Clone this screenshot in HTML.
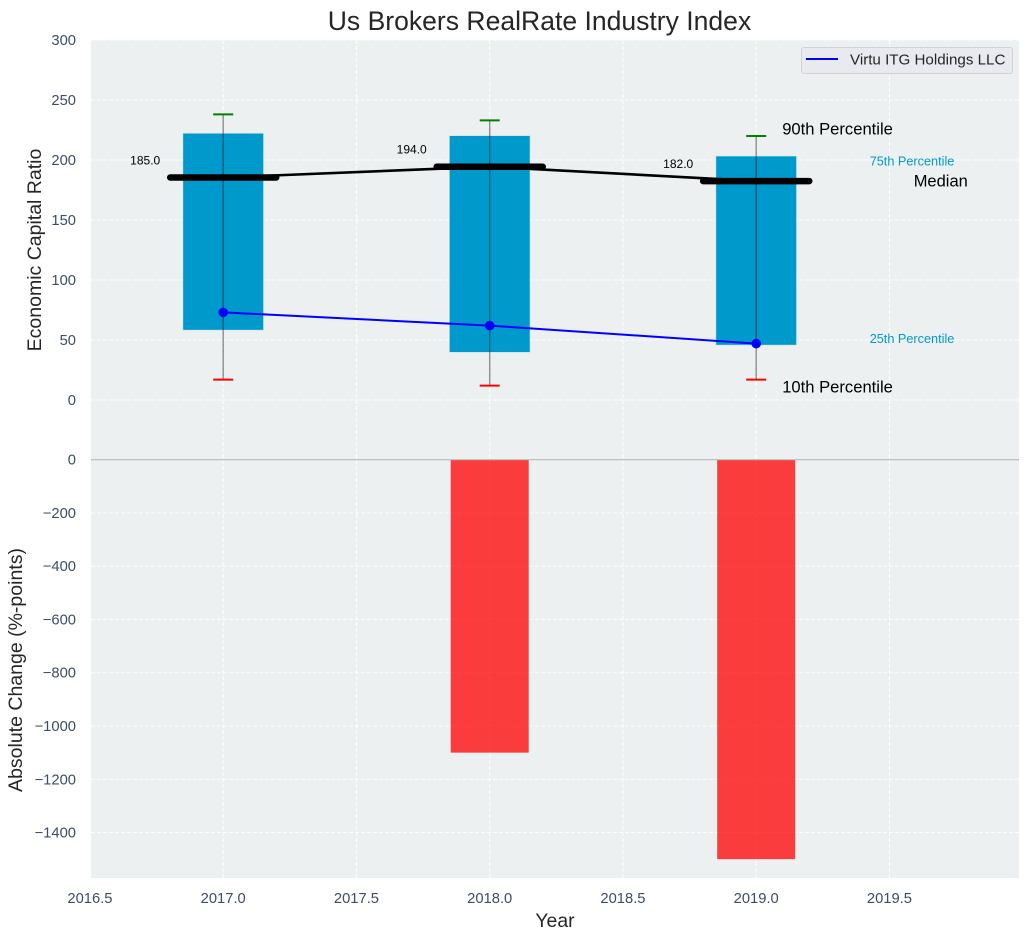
<!DOCTYPE html>
<html lang="en">
<head>
<meta charset="utf-8">
<title>Us Brokers RealRate Industry Index</title>
<style>
html,body{margin:0;padding:0;background:#fff;width:1029px;height:940px;overflow:hidden}
svg{display:block;font-family:"Liberation Sans",Arial,sans-serif}
</style>
</head>
<body>
<svg id="chart" width="1029" height="940" viewBox="0 0 1029 940" xmlns="http://www.w3.org/2000/svg">
  <rect x="91" y="40" width="928" height="420" fill="#ecf0f1"/>
  <rect x="91" y="460" width="928" height="418" fill="#ecf0f1"/>
  <g id="grid"></g>
  <g id="lower"></g>
  <g id="upper"></g>
  <g id="ticks"></g>
  <text x="539.5" y="30" text-anchor="middle" font-size="26.55" fill="#262626">Us Brokers RealRate Industry Index</text>
  <text x="555" y="927" text-anchor="middle" font-size="19.4" fill="#262626">Year</text>
  <text transform="translate(41 250) rotate(-90)" text-anchor="middle" font-size="19.5" fill="#262626">Economic Capital Ratio</text>
  <text transform="translate(22 670) rotate(-90)" text-anchor="middle" font-size="19.5" fill="#262626">Absolute Change (%-points)</text>
  <g>
    <rect x="801.5" y="47.5" width="211" height="26" rx="2.5" fill="#e8eaf0" stroke="#d2d3d7" stroke-width="1"/>
    <line x1="806" y1="59" x2="838" y2="59" stroke="#0000ff" stroke-width="2"/>
    <text x="850" y="64.5" font-size="15.15" fill="#262626">Virtu ITG Holdings LLC</text>
  </g>
</svg>
<script>
const years = [2017, 2018, 2019];
const p90 = [238, 233, 220];
const p75 = [222, 220, 203];
const medians = [185, 194, 182];
const p25 = [58.5, 40, 46];
const p10 = [17, 12, 17];
const company = [73, 62, 47];
const absoluteChange = [0, -1100, -1500];
const xTicks = [2016.5, 2017, 2017.5, 2018, 2018.5, 2019, 2019.5];
const upperTicks = [0, 50, 100, 150, 200, 250, 300];
const lowerTicks = [0, -200, -400, -600, -800, -1000, -1200, -1400];

const SVG_NS = 'http://www.w3.org/2000/svg';
const xScale = v => 223.2 + (v - 2017) * 266.5;
const yUpper = v => 400 - v * 1.2;
const yChange = v => 459.7 - v * 0.2663;

function make(tag, parent, attrs, text) {
  const el = document.createElementNS(SVG_NS, tag);
  for (const k in attrs) el.setAttribute(k, attrs[k]);
  if (text !== undefined) el.textContent = text;
  parent.appendChild(el);
  return el;
}
const fmt = v => String(v).replace('-', '\u2212');
const gridG = document.getElementById('grid');
const ticksG = document.getElementById('ticks');
const upperG = document.getElementById('upper');
const lowerG = document.getElementById('lower');
const gridStyle = { stroke: '#ffffff', 'stroke-width': 1.1, 'stroke-dasharray': '4 2', 'stroke-opacity': 0.85 };
const tickFont = 14.75;
const tickColor = '#3d4d63';

xTicks.forEach(t => {
  const x = xScale(t);
  if (x >= 91) {
    const g = make('line', gridG, Object.assign({ x1: x, x2: x, y1: 40, y2: 878 }, gridStyle));
    
    
  }
  const l = make('text', ticksG, { x: x, y: 903, 'text-anchor': 'middle', 'font-size': tickFont, fill: tickColor }, t.toFixed(1));
  
  
});
upperTicks.forEach(t => {
  const y = yUpper(t);
  const g = make('line', gridG, Object.assign({ x1: 91, x2: 1019, y1: y, y2: y }, gridStyle));
  
  
  const l = make('text', ticksG, { x: 76, y: y + 5, 'text-anchor': 'end', 'font-size': tickFont, fill: tickColor }, fmt(t));
  
  
});
lowerTicks.forEach(t => {
  const y = yChange(t);
  if (t !== 0) {
    const g = make('line', gridG, Object.assign({ x1: 91, x2: 1019, y1: y, y2: y }, gridStyle));
    
    
  }
  const l = make('text', ticksG, { x: 76, y: y + 5, 'text-anchor': 'end', 'font-size': tickFont, fill: tickColor }, fmt(t));
  
  
});

// Lower panel
years.forEach((yr, i) => {
  const v = absoluteChange[i];
  if (v === 0) return;
  const x = xScale(yr) - 39;
  const b = make('rect', lowerG, { x: x, y: yChange(0), width: 78, height: yChange(v) - yChange(0), fill: '#ff0000', 'fill-opacity': 0.75 });
  
  
});
const zeroLine = make('line', lowerG, { x1: 91, x2: 1019, y1: 459.7, y2: 459.7, stroke: '#b9b9b9', 'stroke-width': 1.1 });



// Upper panel: boxes
years.forEach((yr, i) => {
  const cx = xScale(yr);
  const box = make('rect', upperG, { x: cx - 40, y: yUpper(p75[i]), width: 80, height: yUpper(p25[i]) - yUpper(p75[i]), fill: '#0099cc', 'stroke': '#0099cc', 'stroke-opacity': 0.2, 'stroke-width': 1 });
  
  
});
// Median connector
const medianLine = make('polyline', upperG, { points: years.map((yr, i) => xScale(yr) + ',' + (yUpper(medians[i]) - 0.5)).join(' '), fill: 'none', stroke: '#000000', 'stroke-width': 2.6 });



years.forEach((yr, i) => {
  const cx = xScale(yr);
  const w = make('line', upperG, { x1: cx, x2: cx, y1: yUpper(p90[i]), y2: yUpper(p10[i]), stroke: '#000000', 'stroke-opacity': 0.42, 'stroke-width': 1.4 });
  
  
  const hi = make('line', upperG, { x1: cx - 10, x2: cx + 10, y1: yUpper(p90[i]), y2: yUpper(p90[i]), stroke: '#008000', 'stroke-width': 2 });
  
  
  const lo = make('line', upperG, { x1: cx - 10, x2: cx + 10, y1: yUpper(p10[i]), y2: yUpper(p10[i]), stroke: '#ff0000', 'stroke-width': 2 });
  
  
  const m = make('line', upperG, { x1: cx - 53, x2: cx + 53, y1: yUpper(medians[i]) - 0.5, y2: yUpper(medians[i]) - 0.5, stroke: '#000000', 'stroke-width': 6.5, 'stroke-linecap': 'round' });
  
  
  const t = make('text', upperG, { x: cx - 78, y: yUpper(medians[i]) - 13.5, 'text-anchor': 'middle', 'font-size': 12, fill: '#000000' }, medians[i].toFixed(1));
  
  
});

// Company series
const companyLine = make('polyline', upperG, { points: years.map((yr, i) => xScale(yr) + ',' + yUpper(company[i])).join(' '), fill: 'none', stroke: '#0000ff', 'stroke-width': 2 });


years.forEach((yr, i) => {
  const d = make('circle', upperG, { cx: xScale(yr), cy: yUpper(company[i]), r: 4.8, fill: '#0000ff' });
  
  
});

// Percentile annotations, anchored to the final year
const last = years.length - 1;
const lastX = xScale(years[last]);
const a90 = make('text', upperG, { x: lastX + 26, y: yUpper(p90[last]) - 1.5, 'font-size': 16.6, fill: '#000000' }, '90th Percentile');


const a10 = make('text', upperG, { x: lastX + 26, y: yUpper(p10[last]) + 13, 'font-size': 16.6, fill: '#000000' }, '10th Percentile');


const a75 = make('text', upperG, { x: lastX + 113.5, y: yUpper(p75[last]) + 9, 'font-size': 12.7, fill: '#0099cc' }, '75th Percentile');


const a25 = make('text', upperG, { x: lastX + 113.5, y: yUpper(p25[last]) - 2, 'font-size': 12.7, fill: '#0099cc' }, '25th Percentile');


const aM = make('text', upperG, { x: lastX + 157.5, y: yUpper(medians[last]) + 5, 'font-size': 16.5, fill: '#000000' }, 'Median');


</script>
</body>
</html>
